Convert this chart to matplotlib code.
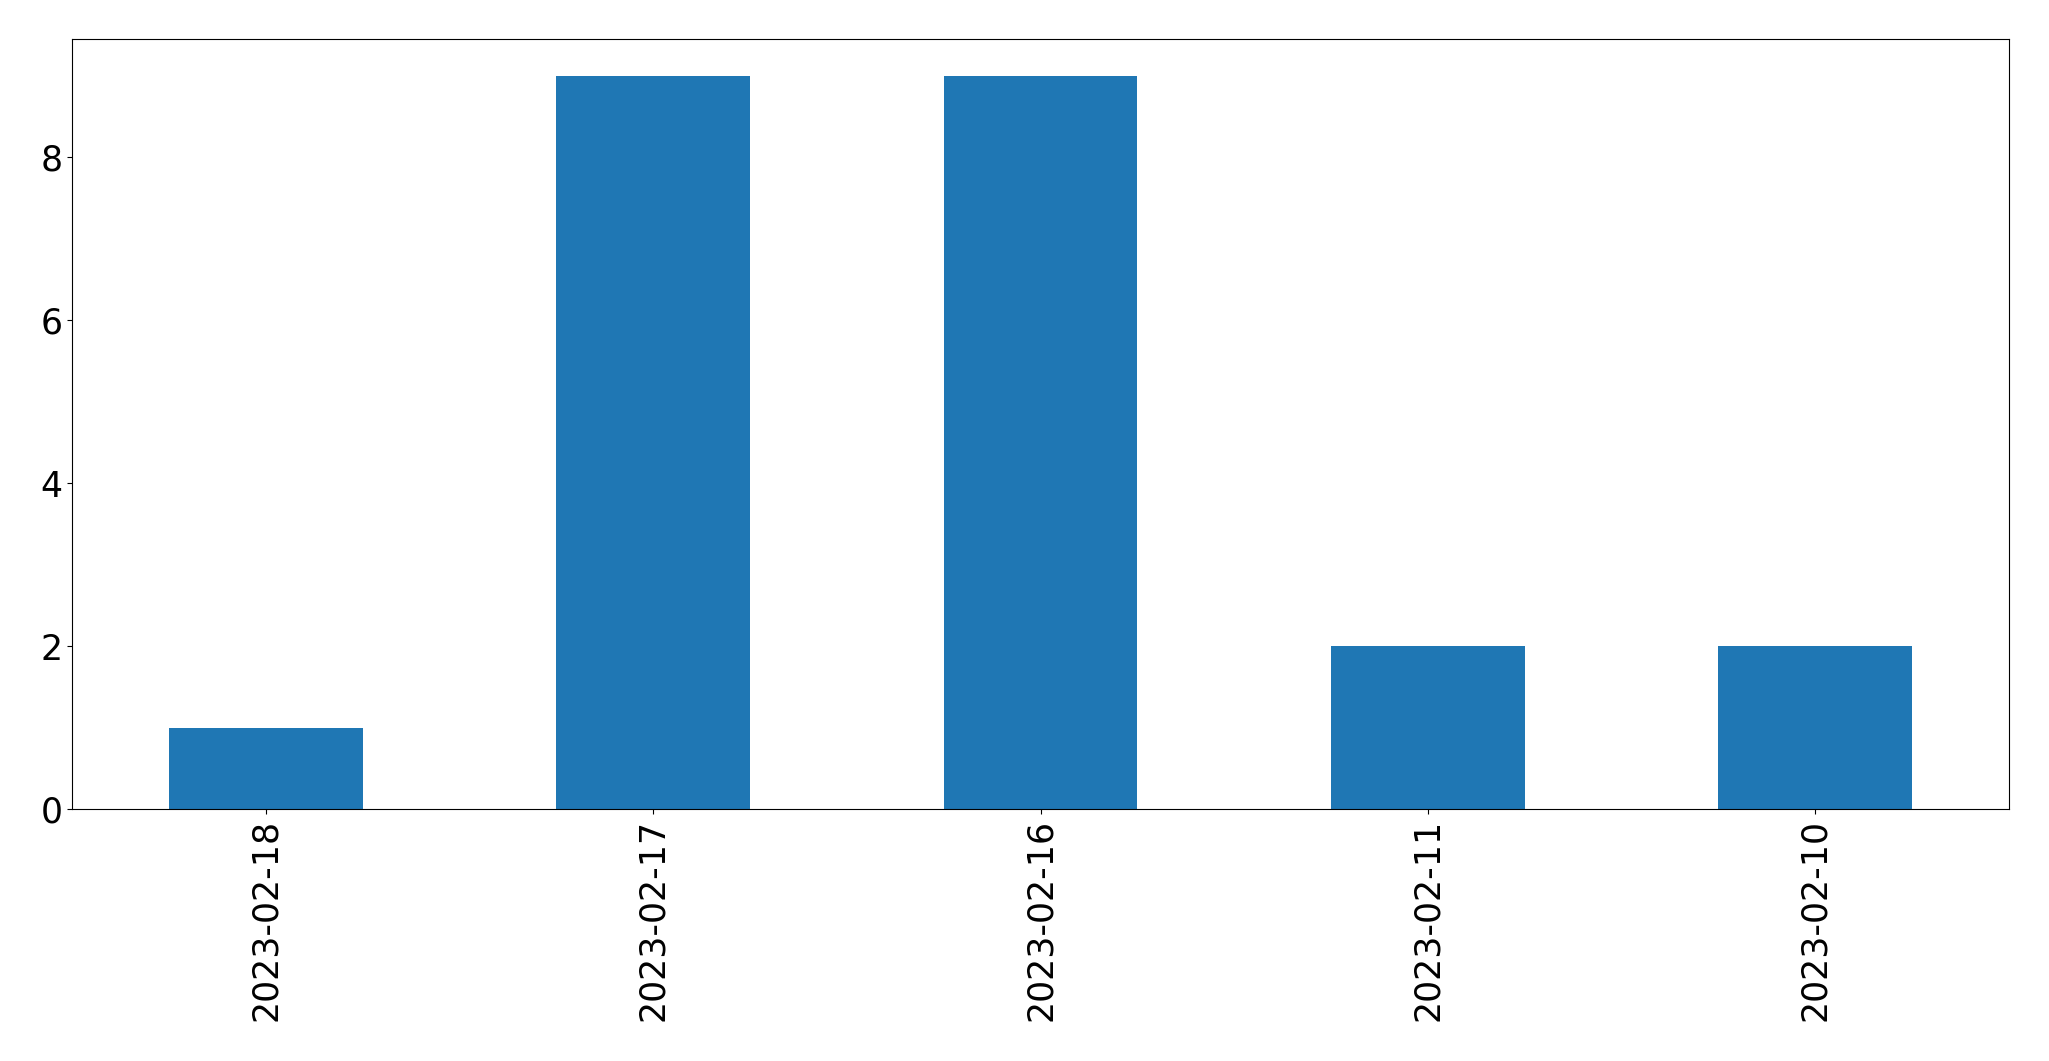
import matplotlib
matplotlib.use("Agg")
import matplotlib.pyplot as plt
import pandas as pd

dates = ["2023-02-18", "2023-02-17", "2023-02-16", "2023-02-11", "2023-02-10"]
counts = [1, 9, 9, 2, 2]

s = pd.Series(counts, index=dates)

fig = plt.figure(figsize=(20.49, 10.61), dpi=100)
ax = fig.add_axes([72 / 2049, 1 - 809 / 1061, (2009 - 72) / 2049, (809 - 39) / 1061])
s.plot(kind="bar", ax=ax, color="#1f77b4")
ax.tick_params(axis="both", labelsize=25)
fig.savefig("out.png", dpi=100)
